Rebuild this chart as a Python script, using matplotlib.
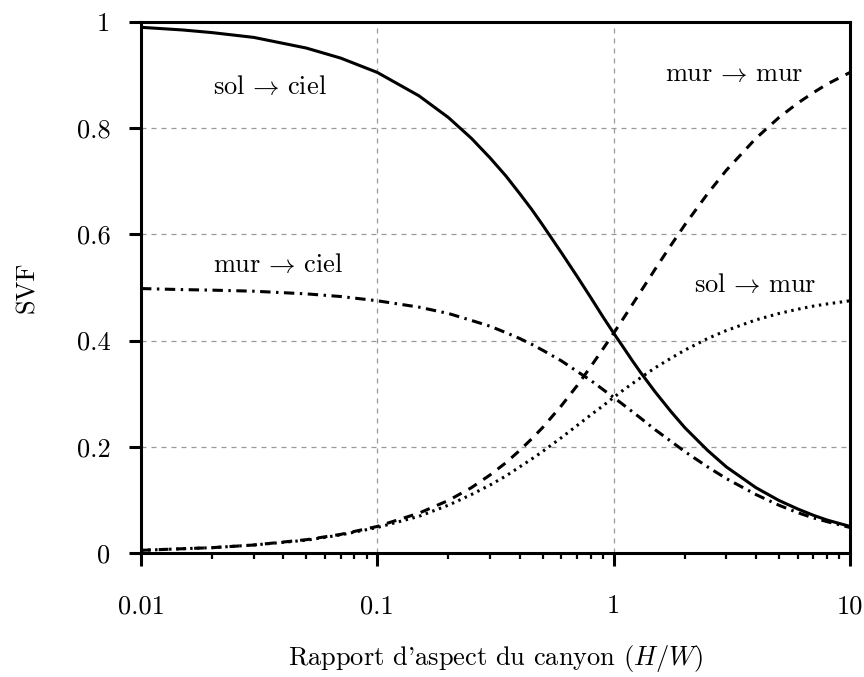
import numpy as np
import matplotlib
matplotlib.use("Agg")
import matplotlib.pyplot as plt

plt.rcParams['font.family'] = 'serif'
plt.rcParams['font.serif'] = ['cmr10', 'DejaVu Serif']
plt.rcParams['mathtext.fontset'] = 'cm'
plt.rcParams['axes.formatter.use_mathtext'] = True

# rapport H/W et facteurs de vue
hw = [0.01, 0.015, 0.02, 0.03, 0.05, 0.07, 0.1, 0.15, 0.2, 0.25, 0.3, 0.35,
      0.4, 0.45, 0.5, 0.6, 0.7, 0.8, 0.9, 1.0, 1.1, 1.2, 1.3, 1.5, 1.75, 2,
      2.5, 3, 4, 5, 6, 7, 8, 10]
sol_ciel = [0.990, 0.985, 0.980, 0.971, 0.951, 0.932, 0.905, 0.861, 0.820,
            0.781, 0.744, 0.710, 0.677, 0.647, 0.618, 0.566, 0.521, 0.481,
            0.445, 0.414, 0.387, 0.362, 0.340, 0.303, 0.266, 0.236, 0.193,
            0.162, 0.123, 0.099, 0.083, 0.071, 0.062, 0.050]
mur_ciel = [0.498, 0.496, 0.495, 0.493, 0.488, 0.483, 0.475, 0.463, 0.451,
            0.438, 0.427, 0.415, 0.404, 0.393, 0.382, 0.362, 0.342, 0.325,
            0.308, 0.293, 0.279, 0.266, 0.254, 0.232, 0.210, 0.191, 0.162,
            0.140, 0.110, 0.090, 0.076, 0.066, 0.059, 0.048]
mur_mur = [0.005, 0.008, 0.010, 0.015, 0.025, 0.035, 0.050, 0.075, 0.099,
           0.123, 0.147, 0.170, 0.193, 0.215, 0.236, 0.277, 0.315, 0.351,
           0.384, 0.414, 0.442, 0.468, 0.492, 0.535, 0.580, 0.618, 0.677,
           0.721, 0.781, 0.820, 0.847, 0.867, 0.883, 0.905]
sol_mur = [0.005, 0.008, 0.010, 0.015, 0.024, 0.034, 0.048, 0.069, 0.090,
           0.110, 0.128, 0.145, 0.162, 0.177, 0.191, 0.217, 0.240, 0.260,
           0.277, 0.293, 0.307, 0.319, 0.330, 0.349, 0.367, 0.382, 0.404,
           0.419, 0.439, 0.451, 0.459, 0.465, 0.469, 0.475]

xticks = [0.01, 0.1, 1, 10]
xticklabels = ['0.01', '0.1', '1', '10']
yticks = [0, 0.2, 0.4, 0.6, 0.8, 1]
yticklabels = ['0', '0.2', '0.4', '0.6', '0.8', '1']

fs = 19
lw = 2.2

fig = plt.figure(figsize=(8.64, 6.77), dpi=100)
ax = fig.add_axes([0.1632, 0.1832, 0.8206, 0.7843])

ax.plot(hw, sol_ciel, color='black', lw=lw, ls='-')
ax.plot(hw, mur_ciel, color='black', lw=lw, ls=(0, (3.4, 1.8, 0.8, 1.8)))
ax.plot(hw, mur_mur, color='black', lw=lw, ls=(0, (3.2, 2.6)))
ax.plot(hw, sol_mur, color='black', lw=lw, ls=(0, (0.8, 1.5)))

ax.set_xscale('log')
ax.set_xlim(0.01, 10)
ax.set_ylim(0, 1)
ax.set_xticks(xticks)
ax.set_xticklabels(xticklabels)
ax.set_yticks(yticks)
ax.set_yticklabels(yticklabels)

ax.grid(True, which='major', color='#999999', ls=(0, (4, 4)), lw=0.9)
for s in ax.spines.values():
    s.set_linewidth(lw)
ax.tick_params(which='major', direction='out', length=9, width=lw,
               labelsize=fs)
ax.tick_params(which='minor', direction='out', length=4.5, width=1.6)
ax.tick_params(axis='x', pad=21)
ax.tick_params(axis='y', pad=13)

ax.set_xlabel("Rapport d'aspect du canyon ($H/W$)", fontsize=fs, labelpad=18)
ax.set_ylabel('SVF', fontsize=fs, labelpad=27)

ax.text(0.0352, 0.864, r'sol$\,\rightarrow\,$ciel', fontsize=fs, ha='center', va='baseline')
ax.text(3.25, 0.889, r'mur$\,\rightarrow\,$mur', fontsize=fs, ha='center', va='baseline')
ax.text(0.0380, 0.529, r'mur$\,\rightarrow\,$ciel', fontsize=fs, ha='center', va='baseline')
ax.text(3.96, 0.4915, r'sol$\,\rightarrow\,$mur', fontsize=fs, ha='center', va='baseline')

fig.savefig('out.png', dpi=100)
